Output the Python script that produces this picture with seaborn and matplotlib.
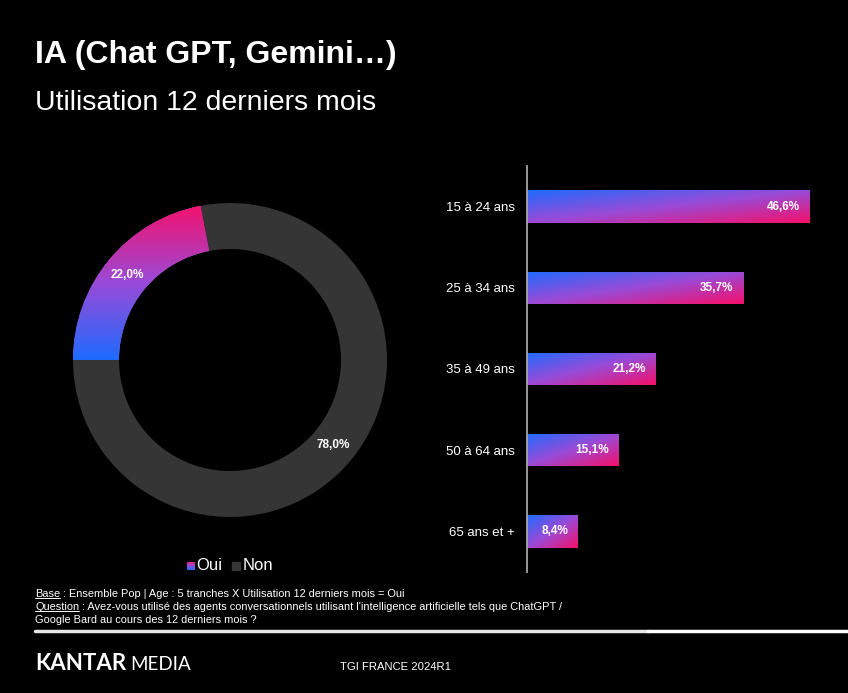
import numpy as np
import pandas as pd
import matplotlib
matplotlib.use("Agg")
import matplotlib.pyplot as plt
import seaborn as sns
from matplotlib.colors import LinearSegmentedColormap
from matplotlib.patches import Rectangle
from matplotlib.lines import Line2D

# Data
categories = ["15 à 24 ans", "25 à 34 ans", "35 à 49 ans", "50 à 64 ans", "65 ans et +"]
shares = [46.6, 35.7, 21.2, 15.1, 8.4]
donut_labels = ["Oui", "Non"]
donut_values = [22.0, 78.0]

W, H = 848, 693


def fr_pct(v):
    return f"{v:.1f}".replace(".", ",") + "%"


def fx(px):
    return px / W


def fy(py):
    return 1 - py / H


sns.set_theme(style="dark")
plt.rcParams.update({
    'font.family': ['Liberation Sans', 'DejaVu Sans'],
    'figure.facecolor': 'black',
    'axes.facecolor': 'black',
    'savefig.facecolor': 'black',
    'text.color': 'white',
    'axes.grid': False,
})

grad = LinearSegmentedColormap.from_list("kantar", ["#1f6bff", "#9a4ad6", "#f5106a"])
non_color = "#353535"

fig = plt.figure(figsize=(W / 100, H / 100), dpi=100)

# ---- bar chart by age ----
axb = fig.add_axes([fx(527), fy(572), fx(830) - fx(527), fy(166) - fy(572)])
df = pd.DataFrame({"age": categories, "share": shares})
sns.barplot(data=df, y="age", x="share", ax=axb, width=0.4, color="#9a4ad6", saturation=1)

u = np.linspace(0, 1, 300)
v = np.linspace(0, 1, 40)
U, V = np.meshgrid(u, v)
T = (U + V) / 2
for patch in axb.patches:
    x0, y0 = patch.get_x(), patch.get_y()
    w, h = patch.get_width(), patch.get_height()
    im = axb.imshow(T, cmap=grad, aspect='auto', origin='upper',
                    extent=(x0, x0 + w, y0 + h, y0), zorder=2, vmin=0, vmax=1)
    im.set_clip_path(patch)
    patch.set_facecolor('none')
    patch.set_edgecolor('none')

axb.set_xlim(0, 50)
axb.set_ylim(4.5, -0.5)
axb.set_xticks([])
axb.set_xlabel('')
axb.set_ylabel('')
axb.tick_params(axis='y', length=0, pad=9, labelsize=9.5, labelcolor='white')
for side in ['top', 'right', 'bottom']:
    axb.spines[side].set_visible(False)
axb.spines['left'].set_color('#a6a6a6')
axb.spines['left'].set_linewidth(1.3)

for i, val in enumerate(shares):
    axb.annotate(fr_pct(val), xy=(val, i), xytext=(-7, 0), textcoords='offset points',
                 ha='right', va='center', fontsize=8.5, fontweight='bold',
                 color='white', zorder=3)

# ---- donut ----
axp = fig.add_axes([fx(73), fy(517), fx(387) - fx(73), fy(203) - fy(517)])
wedges, _ = axp.pie(donut_values, startangle=180, counterclock=False,
                    colors=["#9a4ad6", non_color], radius=1,
                    wedgeprops=dict(width=0.293, edgecolor='none'))
gy = np.linspace(0, 1, 256).reshape(-1, 1)
im = axp.imshow(gy, cmap=grad, origin='lower', extent=(-1, 0, 0, 1),
                aspect='auto', zorder=3)
im.set_clip_path(wedges[0])
for wdg, val in zip(wedges, donut_values):
    ang = np.deg2rad((wdg.theta1 + wdg.theta2) / 2)
    axp.text(0.85 * np.cos(ang), 0.85 * np.sin(ang), fr_pct(val), ha='center',
             va='center', fontsize=8.5, fontweight='bold', color='white', zorder=4)
axp.set_xlim(-1, 1)
axp.set_ylim(-1, 1)
axp.set_aspect('equal')
axp.axis('off')

# legend
axl = fig.add_axes([fx(187), fy(570), fx(8), 8 / H])
axl.imshow(np.linspace(0, 1, 64).reshape(-1, 1), cmap=grad, origin='lower',
           aspect='auto', extent=(0, 1, 0, 1))
axl.axis('off')
fig.text(fx(196), fy(566), donut_labels[0], fontsize=12, va='center', ha='left')
fig.add_artist(Rectangle((fx(232), fy(570)), fx(8), 8 / H, color=non_color,
                         transform=fig.transFigure))
fig.text(fx(243), fy(566), donut_labels[1], fontsize=12, va='center', ha='left')

# ---- titles ----
fig.text(fx(35), fy(55), "IA (Chat GPT, Gemini…)", fontsize=23, fontweight='bold',
         va='center', ha='left')
fig.text(fx(35), fy(103), "Utilisation 12 derniers mois", fontsize=20.5,
         va='center', ha='left')

# ---- footer ----
renderer = fig.canvas.get_renderer()


def underlined(x_px, y_px, head, rest, size=7.9):
    t = fig.text(fx(x_px), fy(y_px), head, fontsize=size, va='center', ha='left')
    bb = t.get_window_extent(renderer)
    fig.add_artist(Line2D([bb.x0 / W, bb.x1 / W], [(bb.y0 + 1) / H] * 2,
                          color='white', lw=0.7, transform=fig.transFigure))
    fig.text(bb.x1 / W, fy(y_px), rest, fontsize=size, va='center', ha='left')


underlined(35, 594, "Base", " : Ensemble Pop | Age : 5 tranches X Utilisation 12 derniers mois = Oui")
underlined(35, 607, "Question", " : Avez-vous utilisé des agents conversationnels utilisant l'intelligence artificielle tels que ChatGPT /")
fig.text(fx(35), fy(620), "Google Bard au cours des 12 derniers mois ?", fontsize=7.9,
         va='center', ha='left')

fig.add_artist(Line2D([fx(35), fx(648)], [fy(631)] * 2, color='#e6e6e6', lw=2.5,
                      transform=fig.transFigure))
fig.add_artist(Line2D([fx(648), fx(848)], [fy(631)] * 2, color='white', lw=2.5,
                      transform=fig.transFigure))

k = fig.text(fx(35), fy(664), "KANTAR", fontsize=16, fontweight='bold',
             family=['Lato', 'DejaVu Sans'], va='center', ha='left')
kb = k.get_window_extent(renderer)
fig.text((kb.x1 + 4) / W, fy(664), "MEDIA", fontsize=13.5, fontweight='normal',
         family=['Lato', 'DejaVu Sans'], va='center', ha='left')
fig.text(fx(340), fy(667), "TGI FRANCE 2024R1", fontsize=8.1, va='center', ha='left')

fig.savefig("out.png", dpi=100, facecolor='black')
